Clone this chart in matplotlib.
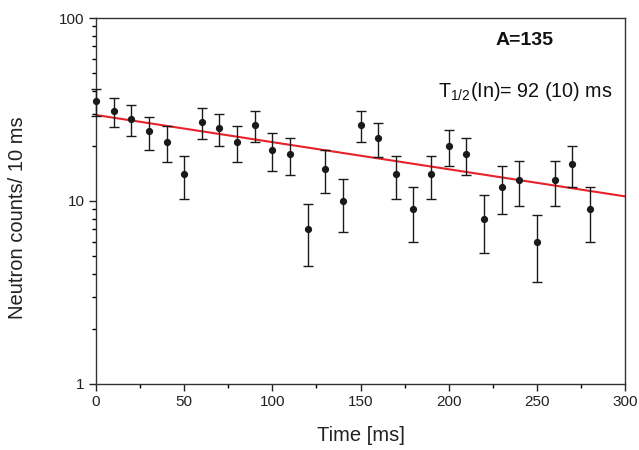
import numpy as np
import matplotlib
matplotlib.use("Agg")
import matplotlib.pyplot as plt
from matplotlib.ticker import LogLocator, NullFormatter, MultipleLocator

plt.rcParams['font.family'] = ['Liberation Sans', 'DejaVu Sans']

time_ms = [0, 10, 20, 30, 40, 50, 60, 70, 80, 90, 100, 110, 120, 130, 140,
           150, 160, 170, 180, 190, 200, 210, 220, 230, 240, 250, 260, 270, 280]
counts = [35, 31, 28, 24, 21, 14, 27, 25, 21, 26, 19, 18, 7, 15, 10,
          26, 22, 14, 9, 14, 20, 18, 8, 12, 13, 6, 13, 16, 9]
errors = [5.9, 5.6, 5.3, 4.9, 4.6, 3.7, 5.2, 5.0, 4.6, 5.1, 4.4, 4.2, 2.6, 3.9, 3.2,
          5.1, 4.7, 3.7, 3.0, 3.7, 4.5, 4.2, 2.8, 3.5, 3.6, 2.4, 3.6, 4.0, 3.0]

fit_amplitude = 29.5   # counts at t = 0
fit_end = 10.6         # counts at t = 300 ms
fit_t = np.array([0.0, 300.0])

fig = plt.figure(figsize=(6.39, 4.5), dpi=100)
ax = fig.add_axes([0.1502, 0.1467, 0.828, 0.8133])

decay = np.log(fit_amplitude / fit_end) / 300.0
ax.plot(fit_t, fit_amplitude * np.exp(-decay * fit_t), color='#e8212a', lw=1.5, zorder=2)

ax.errorbar(time_ms, counts, yerr=errors, fmt='o', color='#1a1a1a', ms=4.2,
            ecolor='#1a1a1a', elinewidth=1.0, capsize=3.5, capthick=1.0, zorder=3,
            clip_on=False)

ax.set_yscale('log')
ax.set_xlim(0, 300)
ax.set_ylim(1, 100)
ax.xaxis.set_major_locator(MultipleLocator(50))
ax.xaxis.set_minor_locator(MultipleLocator(25))
ax.yaxis.set_major_locator(LogLocator(base=10))
ax.yaxis.set_minor_locator(LogLocator(base=10, subs=np.arange(2, 10)))
ax.yaxis.set_minor_formatter(NullFormatter())
ax.set_yticks([1, 10, 100])
ax.set_yticklabels(['1', '10', '100'])

ax.tick_params(axis='both', which='major', direction='out', length=5, width=1,
               labelsize=11, colors='#222222', pad=3)
ax.tick_params(axis='both', which='minor', direction='out', length=3, width=1)
for s in ax.spines.values():
    s.set_linewidth(1.0)
    s.set_color('#333333')

ax.set_xlabel('Time [ms]', fontsize=14.5, color='#222222', labelpad=12)
ax.set_ylabel('Neutron counts/ 10 ms', fontsize=14.5, color='#222222')
ax.yaxis.set_label_coords(-0.130, 0.455)

ax.text(0.81, 0.939, 'A=135', transform=ax.transAxes, fontsize=14,
        fontweight='bold', ha='center', va='center', color='#111111')
ax.text(0.977, 0.80, r'T$_{\mathregular{1/2}}$(In)= 92 (10) ms', transform=ax.transAxes,
        fontsize=14.2, ha='right', va='center', color='#111111')

fig.savefig('out.png', dpi=100)
